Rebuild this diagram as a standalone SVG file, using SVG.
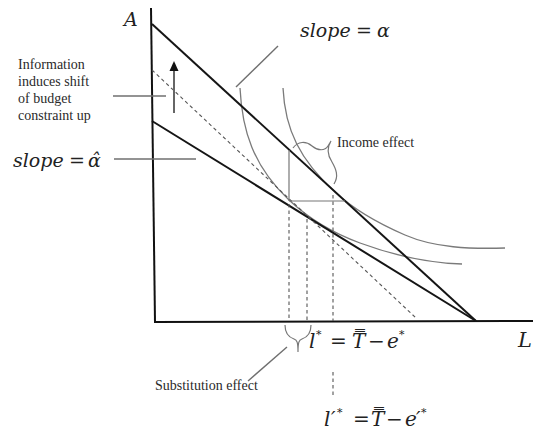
<svg xmlns="http://www.w3.org/2000/svg" width="533" height="433" viewBox="0 0 533 433">
<defs>
<style>
.axis{stroke:#111;stroke-width:2;fill:none}
.budget{stroke:#151515;stroke-width:2;fill:none}
.curve{stroke:#7a7a7a;stroke-width:1.3;fill:none}
.guide{stroke:#777;stroke-width:1.2;fill:none}
.dash{stroke:#555;stroke-width:1.1;stroke-dasharray:3.5,3;fill:none}
.ptr{stroke:#6f6f6f;stroke-width:1.4;fill:none}
.lbl{font-family:"Liberation Serif","Times New Roman",serif;font-size:14px;fill:#2a2a2a}
.math{font-family:"DejaVu Serif",serif;font-style:italic;fill:#222}
.up{font-size:11px}
</style>
</defs>
<rect width="533" height="433" fill="#fff"/>
<g id="axes">
<line class="axis" x1="151" y1="8" x2="155" y2="322"/>
<line class="axis" x1="154" y1="322" x2="533" y2="321"/>
<text class="math" x="124" y="26" font-size="19">A</text>
<text class="math" x="518" y="347" font-size="21">L</text>
</g>
<g id="curves">
<path class="curve" d="M240,88 C242,130 253,166 289,200 C305,215 330,232 360,243 C395,256 430,263 462,264"/>
<path class="curve" d="M283,88 C285,130 300,160 335,192 C350,206 375,222 405,235 C435,248 470,249 505,248"/>
</g>
<g id="budget-lines">
<line class="budget" x1="152" y1="24" x2="476" y2="321"/>
<line class="budget" x1="152" y1="121" x2="476" y2="321"/>
<line class="dash" x1="152" y1="70" x2="416" y2="318"/>
</g>
<g id="connectors">
<line class="guide" x1="289" y1="150" x2="289" y2="201"/>
<line class="guide" x1="289" y1="201" x2="345" y2="201"/>
<line class="dash" x1="289" y1="204" x2="289" y2="321"/>
<line class="dash" x1="307" y1="219" x2="307" y2="321"/>
<line class="dash" x1="333" y1="195" x2="333" y2="321"/>
<line class="dash" x1="333" y1="372" x2="333" y2="398"/>
<line class="ptr" x1="113" y1="96" x2="166" y2="96"/>
<line class="ptr" x1="114" y1="159" x2="196" y2="159"/>
<line class="ptr" x1="236" y1="87" x2="278" y2="46"/>
<line class="ptr" x1="248" y1="381" x2="287" y2="347"/>
<line x1="174" y1="113" x2="174" y2="69" stroke="#666" stroke-width="2"/>
<polygon points="174,61 169.5,71 178.5,71" fill="#111"/>
<path class="guide" d="M293,148 C298,141 306,141 312,146 C318,151 325,151 328,146 L331,141 M331,141 C326,149 328,156 332,162 C336,169 339,176 334,184"/>
<path class="guide" d="M285,325 C285,333 288,337 294,339 C297,340 298,342 298,352 M311,325 C311,333 308,337 302,339 C299,340 298,342 298,352"/>
</g>
<g id="info-label">
<text class="lbl" x="18" y="69">Information</text>
<text class="lbl" x="18" y="86">induces shift</text>
<text class="lbl" x="18" y="103">of budget</text>
<text class="lbl" x="18" y="120">constraint up</text>
</g>
<g id="income-label"><text class="lbl" x="337" y="147">Income effect</text></g>
<g id="substitution-label"><text class="lbl" x="155" y="390">Substitution effect</text></g>
<g id="slope-alpha">
<text class="math" y="37" font-size="19"><tspan x="300">slope</tspan><tspan x="356" font-style="normal">=</tspan><tspan x="377">α</tspan></text>
</g>
<g id="slope-alpha-hat">
<text class="math" y="167" font-size="19"><tspan x="13">slope</tspan><tspan x="69" font-style="normal">=</tspan><tspan x="88">α̂</tspan></text>
</g>
<g id="l-star">
<text class="math" y="348" font-size="20"><tspan x="309">l</tspan><tspan class="up" x="316" y="338">*</tspan><tspan x="330" y="348" font-style="normal">=</tspan><tspan x="352">T̿</tspan><tspan x="368" font-style="normal">−</tspan><tspan x="387">e</tspan><tspan class="up" x="399" y="338">*</tspan></text>
</g>
<g id="l-prime-star">
<text class="math" y="426" font-size="20"><tspan x="324">l</tspan><tspan x="331">′</tspan><tspan class="up" x="337" y="416">*</tspan><tspan x="353" y="426" font-style="normal">=</tspan><tspan x="371">T̿</tspan><tspan x="386" font-style="normal">−</tspan><tspan x="405">e</tspan><tspan x="416">′</tspan><tspan class="up" x="421" y="416">*</tspan></text>
</g>
</svg>
